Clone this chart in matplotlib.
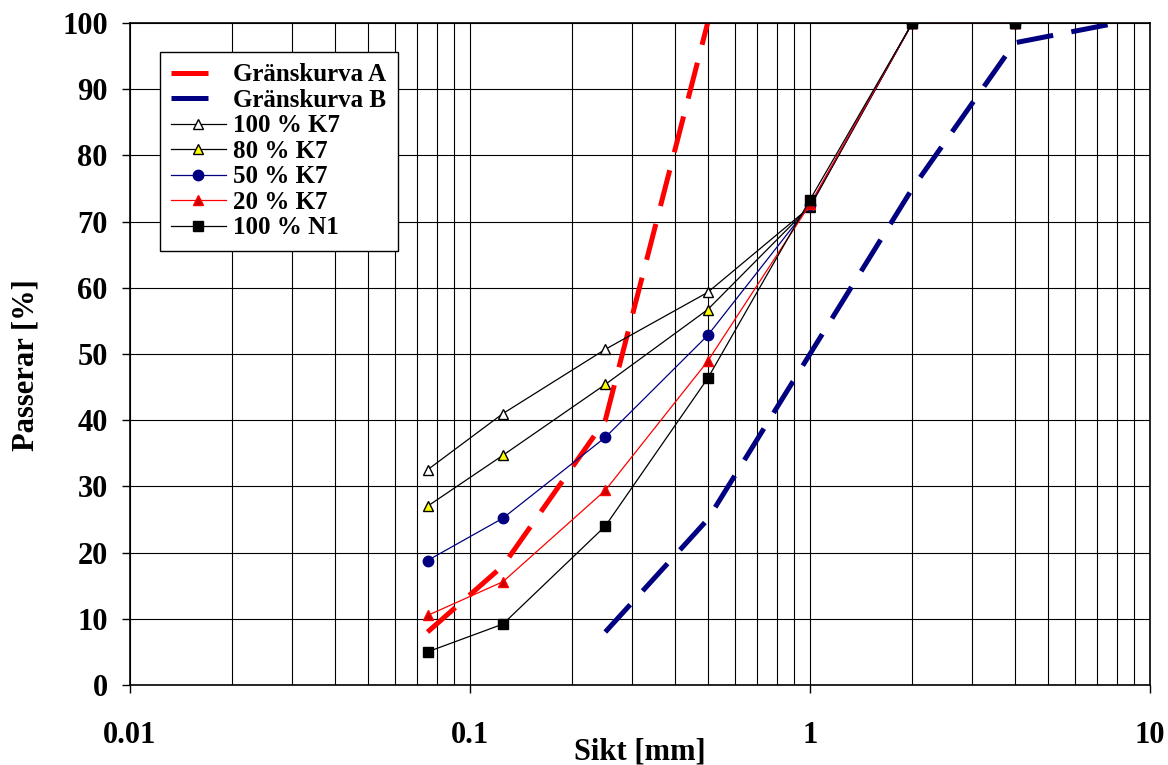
# Siktkurvor med gränskurvor A och B

import numpy as np
import matplotlib.pyplot as plt
from matplotlib.ticker import FixedLocator, NullFormatter, FixedFormatter

# sikt [mm]
sikt = [0.075, 0.125, 0.25, 0.5, 1, 2, 4]

k7_100 = [32.5, 41.0, 50.7, 59.3, 72.2, 100, 100]
k7_80 = [27.0, 34.7, 45.4, 56.7, 72.3, 100, 100]
k7_50 = [18.8, 25.2, 37.4, 52.8, 72.5, 100, 100]
k7_20 = [10.5, 15.6, 29.4, 48.9, 72.6, 100, 100]
n1_100 = [5.0, 9.2, 24.0, 46.3, 73.3, 100, 100]

grans_a_x = [0.075, 0.125, 0.25, 0.5]
grans_a_y = [8, 18, 40, 100]
grans_b_x = [0.25, 0.5, 1, 2, 4, 8]
grans_b_y = [8, 25, 50, 75, 97, 100]

x_ticks = [0.01, 0.1, 1, 10]
x_ticklabels = ['0.01', '0.1', '1', '10']
y_ticks = list(range(0, 101, 10))


def _main():
    plt.rcParams['font.family'] = ['Liberation Serif', 'DejaVu Serif']
    plt.rcParams['font.weight'] = 'bold'

    fig = plt.figure(figsize=(11.68, 7.65), dpi=100)
    ax = fig.add_axes([0.1113, 0.1046, 0.8733, 0.8654])

    ax.plot(grans_a_x, grans_a_y, color='#ff0000', lw=3.6,
            dashes=(7.4, 3.7), label='Gränskurva A')
    ax.plot(grans_b_x, grans_b_y, color='#000080', lw=3.6,
            dashes=(7.4, 3.7), label='Gränskurva B')

    ax.plot(sikt, k7_100, color='black', lw=0.9, marker='^', ms=7.5,
            mfc='white', mec='black', mew=1.0, label='100 % K7')
    ax.plot(sikt, k7_80, color='black', lw=0.9, marker='^', ms=7.5,
            mfc='#ffff00', mec='black', mew=1.0, label='80 % K7')
    ax.plot(sikt, k7_50, color='#000080', lw=0.9, marker='o', ms=7.5,
            mfc='#000080', mec='#000080', label='50 % K7')
    ax.plot(sikt, k7_20, color='#ff0000', lw=0.9, marker='^', ms=7.5,
            mfc='#cc0000', mec='#ff0000', mew=1.0, label='20 % K7')
    ax.plot(sikt, n1_100, color='black', lw=0.9, marker='s', ms=7.5,
            mfc='black', mec='black', label='100 % N1')

    ax.set_xscale('log')
    ax.set_xlim(0.01, 10)
    ax.set_ylim(0, 100)

    ax.xaxis.set_major_locator(FixedLocator(x_ticks))
    ax.xaxis.set_major_formatter(FixedFormatter(x_ticklabels))
    minors = [m * 10.0 ** e for e in (-2, -1, 0) for m in range(2, 10)]
    ax.xaxis.set_minor_locator(FixedLocator(minors))
    ax.xaxis.set_minor_formatter(NullFormatter())
    ax.set_yticks(y_ticks)

    ax.grid(True, which='both', axis='x', color='black', lw=0.8)
    ax.grid(True, which='major', axis='y', color='black', lw=0.8)
    ax.set_axisbelow(True)

    ax.tick_params(axis='both', which='major', direction='out', length=6,
                   width=1, labelsize=22, colors='black')
    ax.tick_params(axis='x', which='major', pad=20)
    ax.tick_params(axis='y', which='major', pad=10)
    ax.tick_params(axis='x', which='minor', length=0)
    for lab in ax.get_xticklabels() + ax.get_yticklabels():
        lab.set_fontweight('bold')

    for sp in ax.spines.values():
        sp.set_linewidth(1.2)
        sp.set_color('black')

    ax.set_xlabel('Sikt [mm]', fontsize=22, fontweight='bold', labelpad=-9)
    ax.set_ylabel('Passerar [%]', fontsize=22, fontweight='bold', labelpad=10)
    ax.yaxis.set_label_coords(-0.088, 0.483)

    leg = ax.legend(loc='upper left', bbox_to_anchor=(0.029, 0.956),
                    borderaxespad=0, fancybox=False, framealpha=1,
                    edgecolor='black', handlelength=2.2,
                    labelspacing=0.1, handletextpad=0.3, borderpad=0.45,
                    prop={'weight': 'bold', 'size': 18})
    leg.get_frame().set_linewidth(1.0)

    fig.savefig('out.png', dpi=100)


if __name__ == '__main__':
    _main()
